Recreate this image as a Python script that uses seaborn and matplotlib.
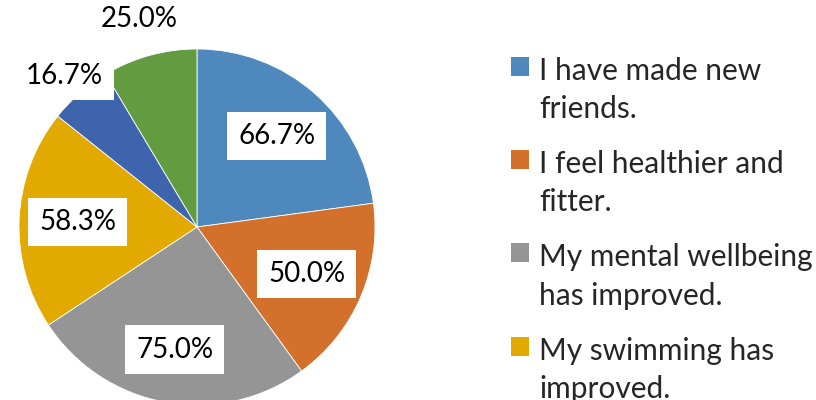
import numpy as np
import matplotlib
matplotlib.use("Agg")
import matplotlib.pyplot as plt
import seaborn as sns

# survey answers (share of respondents, %), clockwise from 12 o'clock
values = [66.7, 50.0, 75.0, 58.3, 16.7, 25.0]
# only the first four legend entries fit in the picture
legend_labels = ["I have made new\nfriends.",
                 "I feel healthier and\nfitter.",
                 "My mental wellbeing\nhas improved.",
                 "My swimming has\nimproved."]
colors = ["#4F88BD", "#D2702C", "#959595", "#E2AA00", "#3D64AD", "#629B40"]
label_dist = [0.68, 0.67, 0.70, 0.67, 1.13, 1.21]

sns.set_theme(style="white")
plt.rcParams["font.family"] = ["Lato", "DejaVu Sans"]

fig = plt.figure(figsize=(8.16, 4), dpi=100)
ax = fig.add_axes([19/816, -5/400, 356/816, 356/400])

wedges, _ = ax.pie(values, colors=colors, startangle=90, counterclock=False,
                   radius=1, wedgeprops=dict(edgecolor="white", linewidth=0.6))
ax.set_xlim(-1, 1)
ax.set_ylim(-1, 1)
ax.set_aspect("equal")
ax.axis("off")

for w, v, d in zip(wedges, values, label_dist):
    ang = np.deg2rad((w.theta1 + w.theta2) / 2)
    ax.text(d*np.cos(ang), d*np.sin(ang), f"{v:.1f}%", ha="center", va="center",
            fontsize=20, color="black", zorder=5,
            bbox=dict(boxstyle="square,pad=0.4", fc="white", ec="none"))

leg = fig.legend(wedges[:4], legend_labels, loc="upper left",
                 bbox_to_anchor=(484/816, 1 - 30/400), frameon=False,
                 fontsize=21.5, handlelength=0.6, handleheight=0.6,
                 handletextpad=0.35, labelspacing=0.9)
for t in leg.get_texts():
    t.set_linespacing(1.45)
for h in leg.legend_handles:
    h.set_edgecolor("none")
# put each square level with the first line of its label
for col in leg._legend_handle_box.get_children():
    for row in col.get_children():
        row.align = "top"

fig.savefig("out.png", dpi=100)
